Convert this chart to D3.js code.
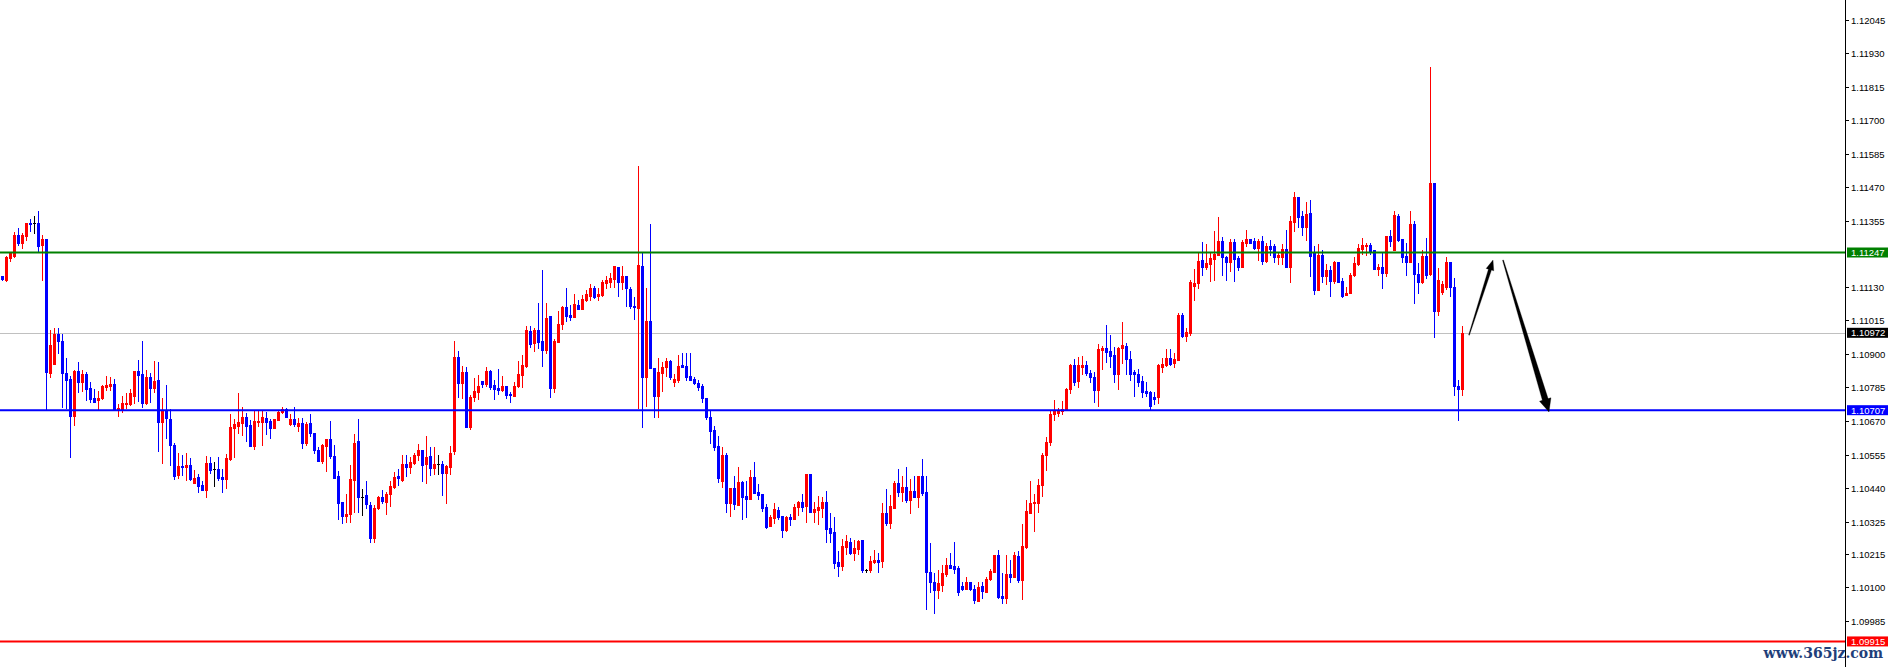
<!DOCTYPE html>
<html><head><meta charset="utf-8">
<script src="https://cdn.jsdelivr.net/npm/d3@7"></script>
<style>html,body{margin:0;padding:0;background:#fff;overflow:hidden}</style>
</head><body>
<svg id="chart" width="1891" height="667"></svg>
<script>
const opens = [
1.11167,1.11153,1.11228,1.11235,1.11307,1.11281,1.11304,1.11347,1.11347,1.11349,
1.11273,1.11294,1.10836,1.10864,1.10968,1.10944,1.10836,1.10814,1.10688,1.10841,
1.10805,1.10831,1.10782,1.10749,1.10742,1.10748,1.10787,1.10790,1.10797,1.10708,
1.10708,1.10727,1.10728,1.10757,1.10841,1.10831,1.10733,1.10822,1.10782,1.10811,
1.10668,1.10708,1.10677,1.10588,1.10485,1.10517,1.10512,1.10519,1.10459,1.10477,
1.10451,1.10434,1.10526,1.10505,1.10506,1.10477,1.10471,1.10540,1.10647,1.10653,
1.10664,1.10683,1.10656,1.10584,1.10667,1.10668,1.10679,1.10670,1.10647,1.10674,
1.10700,1.10710,1.10659,1.10676,1.10654,1.10662,1.10594,1.10662,1.10628,1.10571,
1.10532,1.10584,1.10607,1.10550,1.10480,1.10392,1.10346,1.10350,1.10468,1.10602,
1.10410,1.10417,1.10382,1.10270,1.10371,1.10410,1.10394,1.10419,1.10445,1.10480,
1.10468,1.10523,1.10514,1.10527,1.10552,1.10571,1.10523,1.10550,1.10509,1.10522,
1.10523,1.10493,1.10514,1.10567,1.10890,1.10799,1.10839,1.10649,1.10751,1.10770,
1.10807,1.10796,1.10841,1.10793,1.10782,1.10777,1.10790,1.10763,1.10757,1.10790,
1.10826,1.10860,1.10979,1.10938,1.10982,1.10944,1.10913,1.11030,1.10784,1.10941,
1.11001,1.11061,1.11033,1.11027,1.11066,1.11054,1.11084,1.11098,1.11127,1.11099,
1.11101,1.11142,1.11147,1.11156,1.11197,1.11147,1.11165,1.11122,1.11065,1.11058,
1.11201,1.10822,1.11013,1.10851,1.10757,1.10836,1.10854,1.10877,1.10802,1.10811,
1.10862,1.10858,1.10824,1.10814,1.10799,1.10791,1.10748,1.10685,1.10639,1.10584,
1.10463,1.10554,1.10390,1.10442,1.10382,1.10461,1.10414,1.10403,1.10477,1.10426,
1.10420,1.10377,1.10311,1.10339,1.10365,1.10345,1.10297,1.10342,1.10334,1.10374,
1.10392,1.10380,1.10489,1.10359,1.10365,1.10373,1.10394,1.10302,1.10291,1.10186,
1.10173,1.10240,1.10255,1.10219,1.10232,1.10262,1.10159,1.10159,1.10186,1.10194,
1.10191,1.10356,1.10320,1.10373,1.10459,1.10428,1.10445,1.10400,1.10430,1.10410,
1.10480,1.10428,1.10153,1.10120,1.10091,1.10108,1.10145,1.10176,1.10173,1.10165,
1.10105,1.10093,1.10117,1.10094,1.10055,1.10105,1.10086,1.10128,1.10153,1.10211,
1.10071,1.10065,1.10145,1.10134,1.10208,1.10125,1.10240,1.10356,1.10388,1.10390,
1.10451,1.10552,1.10599,1.10694,1.10699,1.10705,1.10710,1.10780,1.10862,1.10807,
1.10856,1.10862,1.10836,1.10819,1.10777,1.10913,1.10921,1.10910,1.10896,1.10831,
1.10919,1.10927,1.10883,1.10839,1.10831,1.10808,1.10773,1.10770,1.10751,1.10753,
1.10856,1.10862,1.10887,1.10868,1.10879,1.11033,1.10962,1.10970,1.11133,1.11142,
1.11222,1.11196,1.11208,1.11226,1.11239,1.11287,1.11230,1.11216,1.11283,1.11227,
1.11199,1.11279,1.11292,1.11285,1.11264,1.11285,1.11219,1.11270,1.11268,1.11230,
1.11233,1.11259,1.11199,1.11352,1.11438,1.11372,1.11333,1.11381,1.11245,1.11119,
1.11239,1.11165,1.11187,1.11149,1.11215,1.11149,1.11101,1.11109,1.11171,1.11208,
1.11259,1.11268,1.11273,1.11256,1.11190,1.11197,1.11178,1.11304,1.11256,1.11372,
1.11294,1.11235,1.11213,1.11345,1.11174,1.11147,1.11235,1.11174,1.11485,1.11045,
1.11113,1.11128,1.11213,1.11128,1.10790,1.10780];
const highs = [
1.11167,1.11235,1.11246,1.11318,1.11331,1.11314,1.11349,1.11361,1.11372,1.11389,
1.11307,1.11294,1.10982,1.10990,1.10990,1.10968,1.10885,1.10824,1.10845,1.10873,
1.10845,1.10837,1.10805,1.10779,1.10773,1.10793,1.10824,1.10822,1.10813,1.10728,
1.10756,1.10767,1.10779,1.10841,1.10879,1.10944,1.10845,1.10836,1.10876,1.10873,
1.10748,1.10793,1.10710,1.10594,1.10560,1.10554,1.10562,1.10543,1.10502,1.10489,
1.10465,1.10550,1.10546,1.10530,1.10546,1.10505,1.10556,1.10693,1.10676,1.10765,
1.10717,1.10696,1.10674,1.10706,1.10706,1.10706,1.10702,1.10676,1.10676,1.10706,
1.10718,1.10714,1.10694,1.10717,1.10679,1.10679,1.10668,1.10694,1.10628,1.10580,
1.10591,1.10607,1.10670,1.10588,1.10499,1.10392,1.10420,1.10519,1.10626,1.10677,
1.10437,1.10465,1.10392,1.10382,1.10413,1.10434,1.10428,1.10463,1.10497,1.10506,
1.10554,1.10554,1.10545,1.10560,1.10591,1.10571,1.10619,1.10580,1.10580,1.10552,
1.10532,1.10519,1.10584,1.10944,1.10910,1.10858,1.10856,1.10759,1.10816,1.10828,
1.10807,1.10854,1.10845,1.10811,1.10848,1.10824,1.10790,1.10770,1.10802,1.10876,
1.10896,1.10995,1.10995,1.10990,1.11075,1.11187,1.11073,1.11030,1.10950,1.11047,
1.11065,1.11125,1.11066,1.11105,1.11084,1.11101,1.11119,1.11138,1.11132,1.11127,
1.11153,1.11167,1.11178,1.11201,1.11197,1.11201,1.11165,1.11130,1.11093,1.11544,
1.11245,1.11127,1.11345,1.10851,1.10885,1.10873,1.10887,1.10879,1.10831,1.10896,
1.10904,1.10904,1.10904,1.10822,1.10811,1.10797,1.10748,1.10704,1.10653,1.10619,
1.10582,1.10560,1.10440,1.10482,1.10512,1.10465,1.10463,1.10502,1.10530,1.10453,
1.10420,1.10385,1.10348,1.10390,1.10377,1.10345,1.10345,1.10352,1.10385,1.10397,
1.10420,1.10489,1.10489,1.10392,1.10414,1.10410,1.10430,1.10356,1.10342,1.10225,
1.10266,1.10280,1.10270,1.10262,1.10262,1.10262,1.10163,1.10208,1.10228,1.10219,
1.10390,1.10437,1.10417,1.10465,1.10506,1.10482,1.10514,1.10471,1.10482,1.10483,
1.10540,1.10482,1.10252,1.10148,1.10159,1.10176,1.10200,1.10219,1.10257,1.10173,
1.10117,1.10137,1.10120,1.10108,1.10120,1.10117,1.10134,1.10162,1.10211,1.10228,
1.10150,1.10211,1.10194,1.10223,1.10225,1.10317,1.10399,1.10465,1.10420,1.10471,
1.10560,1.10614,1.10708,1.10742,1.10714,1.10739,1.10784,1.10865,1.10883,1.10890,
1.10893,1.10876,1.10845,1.10837,1.10934,1.10927,1.10999,1.10965,1.10924,1.10924,
1.11010,1.10938,1.10910,1.10845,1.10847,1.10824,1.10805,1.10773,1.10769,1.10865,
1.10887,1.10917,1.10917,1.10902,1.11041,1.11041,1.10988,1.11153,1.11190,1.11249,
1.11283,1.11276,1.11249,1.11320,1.11370,1.11300,1.11235,1.11294,1.11294,1.11235,
1.11290,1.11324,1.11292,1.11296,1.11294,1.11304,1.11281,1.11290,1.11277,1.11245,
1.11277,1.11324,1.11372,1.11455,1.11438,1.11389,1.11421,1.11427,1.11270,1.11277,
1.11256,1.11208,1.11201,1.11219,1.11215,1.11161,1.11130,1.11178,1.11233,1.11277,
1.11296,1.11281,1.11279,1.11256,1.11208,1.11249,1.11304,1.11324,1.11389,1.11379,
1.11294,1.11281,1.11389,1.11355,1.11211,1.11256,1.11296,1.11884,1.11485,1.11193,
1.11149,1.11231,1.11213,1.11159,1.10810,1.10994];
const lows = [
1.11153,1.11149,1.11219,1.11233,1.11273,1.11264,1.11290,1.11322,1.11313,1.11252,
1.11153,1.10708,1.10822,1.10864,1.10904,1.10719,1.10714,1.10546,1.10656,1.10770,
1.10774,1.10742,1.10736,1.10736,1.10710,1.10744,1.10777,1.10777,1.10708,1.10688,
1.10702,1.10716,1.10725,1.10733,1.10739,1.10719,1.10727,1.10736,1.10770,1.10568,
1.10527,1.10611,1.10519,1.10471,1.10474,1.10485,1.10468,1.10468,1.10458,1.10428,
1.10432,1.10408,1.10493,1.10448,1.10468,1.10428,1.10442,1.10538,1.10546,1.10630,
1.10622,1.10603,1.10584,1.10575,1.10653,1.10588,1.10626,1.10613,1.10647,1.10674,
1.10696,1.10682,1.10656,1.10654,1.10634,1.10579,1.10588,1.10620,1.10562,1.10532,
1.10527,1.10500,1.10543,1.10474,1.10333,1.10322,1.10325,1.10325,1.10359,1.10359,
1.10349,1.10371,1.10255,1.10255,1.10369,1.10388,1.10352,1.10380,1.10440,1.10451,
1.10466,1.10480,1.10493,1.10523,1.10535,1.10463,1.10459,1.10485,1.10490,1.10490,
1.10417,1.10390,1.10489,1.10557,1.10753,1.10750,1.10649,1.10643,1.10740,1.10745,
1.10787,1.10790,1.10779,1.10745,1.10763,1.10773,1.10750,1.10736,1.10757,1.10787,
1.10787,1.10856,1.10924,1.10911,1.10921,1.10860,1.10902,1.10753,1.10770,1.10941,
1.10985,1.11014,1.11016,1.11027,1.11054,1.11054,1.11081,1.11084,1.11091,1.11084,
1.11098,1.11127,1.11130,1.11130,1.11099,1.11122,1.11065,1.11058,1.11019,1.10714,
1.10649,1.10721,1.10853,1.10685,1.10685,1.10774,1.10824,1.10814,1.10791,1.10805,
1.10856,1.10811,1.10811,1.10796,1.10777,1.10736,1.10676,1.10594,1.10571,1.10461,
1.10445,1.10359,1.10346,1.10369,1.10382,1.10333,1.10342,1.10403,1.10424,1.10403,
1.10362,1.10305,1.10311,1.10322,1.10334,1.10274,1.10293,1.10314,1.10334,1.10348,
1.10362,1.10325,1.10357,1.10323,1.10316,1.10342,1.10255,1.10255,1.10165,1.10139,
1.10159,1.10214,1.10214,1.10194,1.10214,1.10153,1.10153,1.10153,1.10182,1.10153,
1.10171,1.10314,1.10305,1.10371,1.10414,1.10397,1.10394,1.10356,1.10408,1.10377,
1.10417,1.10025,1.10086,1.10011,1.10065,1.10089,1.10140,1.10165,1.10148,1.10074,
1.10091,1.10093,1.10091,1.10048,1.10055,1.10065,1.10086,1.10125,1.10153,1.10065,
1.10048,1.10046,1.10117,1.10134,1.10120,1.10059,1.10236,1.10356,1.10294,1.10359,
1.10413,1.10502,1.10588,1.10674,1.10688,1.10693,1.10710,1.10767,1.10793,1.10785,
1.10831,1.10828,1.10805,1.10736,1.10722,1.10848,1.10873,1.10856,1.10802,1.10780,
1.10868,1.10831,1.10811,1.10756,1.10791,1.10753,1.10756,1.10710,1.10727,1.10733,
1.10839,1.10860,1.10862,1.10856,1.10879,1.10958,1.10945,1.10965,1.11084,1.11127,
1.11171,1.11190,1.11149,1.11153,1.11239,1.11171,1.11153,1.11185,1.11149,1.11187,
1.11197,1.11270,1.11281,1.11259,1.11223,1.11207,1.11216,1.11239,1.11216,1.11208,
1.11208,1.11199,1.11147,1.11322,1.11336,1.11306,1.11290,1.11168,1.11105,1.11119,
1.11145,1.11139,1.11099,1.11143,1.11145,1.11093,1.11101,1.11107,1.11168,1.11205,
1.11243,1.11239,1.11242,1.11190,1.11171,1.11125,1.11165,1.11268,1.11256,1.11287,
1.11213,1.11171,1.11213,1.11073,1.11109,1.11143,1.11161,1.11171,1.10956,1.11033,
1.11104,1.11122,1.11099,1.10760,1.10673,1.10760];
const closes = [
1.11156,1.11232,1.11245,1.11307,1.11281,1.11307,1.11349,1.11345,1.11347,1.11270,
1.11292,1.10839,1.10930,1.10968,1.10944,1.10834,1.10811,1.10688,1.10842,1.10805,
1.10831,1.10780,1.10745,1.10736,1.10748,1.10790,1.10793,1.10797,1.10708,1.10714,
1.10733,1.10733,1.10765,1.10841,1.10828,1.10731,1.10822,1.10782,1.10807,1.10668,
1.10708,1.10679,1.10588,1.10483,1.10516,1.10512,1.10519,1.10471,1.10474,1.10448,
1.10434,1.10526,1.10502,1.10505,1.10474,1.10471,1.10543,1.10649,1.10660,1.10666,
1.10683,1.10654,1.10584,1.10670,1.10670,1.10683,1.10668,1.10647,1.10676,1.10702,
1.10712,1.10682,1.10676,1.10659,1.10662,1.10596,1.10660,1.10628,1.10571,1.10532,
1.10588,1.10607,1.10550,1.10474,1.10390,1.10346,1.10352,1.10471,1.10596,1.10410,
1.10410,1.10385,1.10268,1.10373,1.10410,1.10397,1.10420,1.10448,1.10477,1.10474,
1.10523,1.10514,1.10530,1.10554,1.10571,1.10519,1.10546,1.10509,1.10523,1.10522,
1.10493,1.10516,1.10560,1.10890,1.10799,1.10839,1.10649,1.10753,1.10773,1.10790,
1.10797,1.10841,1.10787,1.10780,1.10777,1.10790,1.10759,1.10759,1.10790,1.10831,
1.10862,1.10982,1.10934,1.10982,1.10941,1.10913,1.11024,1.10784,1.10944,1.11003,
1.11061,1.11030,1.11027,1.11070,1.11054,1.11088,1.11105,1.11127,1.11096,1.11104,
1.11145,1.11153,1.11161,1.11201,1.11147,1.11165,1.11125,1.11065,1.11061,1.11205,
1.10822,1.11013,1.10853,1.10757,1.10837,1.10854,1.10877,1.10822,1.10814,1.10858,
1.10856,1.10822,1.10811,1.10799,1.10785,1.10748,1.10682,1.10634,1.10582,1.10475,
1.10554,1.10390,1.10440,1.10386,1.10461,1.10410,1.10403,1.10477,1.10424,1.10417,
1.10373,1.10306,1.10342,1.10369,1.10342,1.10297,1.10342,1.10334,1.10377,1.10392,
1.10377,1.10489,1.10359,1.10369,1.10377,1.10394,1.10300,1.10288,1.10184,1.10173,
1.10242,1.10259,1.10217,1.10234,1.10259,1.10159,1.10159,1.10191,1.10194,1.10188,
1.10356,1.10322,1.10379,1.10459,1.10428,1.10445,1.10400,1.10431,1.10410,1.10480,
1.10422,1.10153,1.10117,1.10091,1.10115,1.10150,1.10176,1.10168,1.10163,1.10084,
1.10094,1.10117,1.10093,1.10057,1.10100,1.10089,1.10129,1.10157,1.10211,1.10068,
1.10065,1.10145,1.10134,1.10211,1.10125,1.10242,1.10362,1.10390,1.10394,1.10451,
1.10554,1.10597,1.10694,1.10705,1.10705,1.10710,1.10780,1.10862,1.10805,1.10862,
1.10862,1.10834,1.10819,1.10777,1.10917,1.10921,1.10907,1.10893,1.10831,1.10921,
1.10930,1.10881,1.10831,1.10830,1.10805,1.10770,1.10767,1.10722,1.10745,1.10862,
1.10865,1.10887,1.10865,1.10883,1.11033,1.10961,1.10974,1.11147,1.11143,1.11219,
1.11196,1.11211,1.11227,1.11242,1.11287,1.11230,1.11216,1.11283,1.11226,1.11199,
1.11283,1.11294,1.11281,1.11264,1.11285,1.11219,1.11270,1.11259,1.11232,1.11237,
1.11259,1.11199,1.11355,1.11438,1.11370,1.11333,1.11379,1.11235,1.11119,1.11239,
1.11165,1.11187,1.11149,1.11216,1.11147,1.11099,1.11109,1.11171,1.11211,1.11262,
1.11273,1.11273,1.11252,1.11190,1.11199,1.11176,1.11304,1.11285,1.11375,1.11290,
1.11233,1.11213,1.11345,1.11173,1.11147,1.11235,1.11171,1.11485,1.11048,1.11153,
1.11139,1.11213,1.11128,1.10790,1.10780,1.10972];

const tickLabels = ["1.12045","1.11930","1.11815","1.11700","1.11585","1.11470","1.11355",
  "1.11130","1.11015","1.10900","1.10785","1.10670","1.10555","1.10440","1.10325",
  "1.10215","1.10100","1.09985"];
const resistancePrice = 1.11247;
const supportPrice = 1.10707;
const lowLevelPrice = 1.09915;
const bidPrice = 1.10972;
// arrow annotations: [bar index, price]
const arrowUp = [[366.7, 1.10964], [372.7, 1.11221]];
const arrowDown = [[375.2, 1.11221], [386.7, 1.10701]];
const watermark = "www.365jz.com";

const W = 1891, H = 667, axisX = 1845;
const svg = d3.select("#chart");
svg.append("rect").attr("width", W).attr("height", H).attr("fill", "#fff");

const x = d3.scaleLinear().domain([0, 365]).range([2.2, 1462.2]);
const y = d3.scaleLinear().domain([1.09985, 1.12045]).range([621, 19.5]);

const plot = svg.append("g");
// bid line (behind candles)
plot.append("line").attr("x1", 0).attr("x2", axisX).attr("y1", Math.round(y(bidPrice)) + 0.5).attr("y2", Math.round(y(bidPrice)) + 0.5)
  .attr("stroke", "#c0c0c0").attr("stroke-width", 1);

const bars = d3.range(opens.length).map(i => ({i, o: opens[i], h: highs[i], l: lows[i], c: closes[i]}));
const col = d => d.c > d.o ? "#ff0000" : (d.c < d.o ? "#0000ff" : "#000000");
const cg = plot.append("g").attr("shape-rendering", "crispEdges");
cg.selectAll("rect.wick").data(bars).join("rect").attr("class", "wick")
  .attr("x", d => Math.round(x(d.i)))
  .attr("width", 1)
  .attr("y", d => Math.round(y(d.h)))
  .attr("height", d => Math.max(1, Math.round(y(d.l)) - Math.round(y(d.h)) + 1))
  .attr("fill", col);
cg.selectAll("rect.body").data(bars).join("rect").attr("class", "body")
  .attr("x", d => Math.round(x(d.i)) - 1)
  .attr("width", 3)
  .attr("y", d => Math.round(y(Math.max(d.o, d.c))))
  .attr("height", d => Math.max(1, Math.round(y(Math.min(d.o, d.c))) - Math.round(y(Math.max(d.o, d.c))) + 1))
  .attr("fill", col);

// level lines
function level(p, color, w) {
  plot.append("line").attr("x1", 0).attr("x2", axisX).attr("y1", y(p)).attr("y2", y(p))
    .attr("stroke", color).attr("stroke-width", w);
}
level(resistancePrice, "#008000", 2);
level(supportPrice, "#0000ff", 2);
level(lowLevelPrice, "#ff0000", 2);

// arrows
function arrow(pts, w0, w1, headLen, headHalf) {
  const p0 = [x(pts[0][0]), y(pts[0][1])], p1 = [x(pts[1][0]), y(pts[1][1])];
  const dx = p1[0] - p0[0], dy = p1[1] - p0[1], len = Math.hypot(dx, dy);
  const u = [dx / len, dy / len], n = [-u[1], u[0]];
  const b = [p1[0] - u[0] * headLen, p1[1] - u[1] * headLen];
  const pt = (p, k) => [p[0] + n[0] * k, p[1] + n[1] * k];
  const poly = [pt(p0, w0), pt(b, w1), pt(b, headHalf), p1, pt(b, -headHalf), pt(b, -w1), pt(p0, -w0)];
  plot.append("path").attr("d", "M" + poly.map(p => p.join(",")).join("L") + "Z")
    .attr("fill", "#000").attr("stroke", "#000").attr("stroke-width", 0.3);
}
arrow(arrowUp, 0.4, 1.6, 10, 4);
arrow(arrowDown, 0.5, 3, 13, 6);

// axis
const ax = svg.append("g");
ax.append("line").attr("x1", axisX + 0.5).attr("x2", axisX + 0.5).attr("y1", 0).attr("y2", H)
  .attr("stroke", "#000").attr("stroke-width", 1);
const font = "'Liberation Sans', Arial, sans-serif";
tickLabels.forEach(t => {
  const v = +t, yy = Math.round(y(v)) + 0.5;
  ax.append("line").attr("x1", axisX).attr("x2", axisX + 4).attr("y1", yy).attr("y2", yy).attr("stroke", "#000");
  ax.append("text").attr("x", axisX + 6).attr("y", yy).attr("dy", "0.35em")
    .attr("font-family", font).attr("font-size", "9.5px").attr("fill", "#000").text(t);
});
function tag(p, color) {
  const yy = y(p);
  ax.append("rect").attr("x", axisX + 2).attr("y", yy - 5).attr("width", 41).attr("height", 10).attr("fill", color);
  ax.append("text").attr("x", axisX + 6).attr("y", yy).attr("dy", "0.35em")
    .attr("font-family", font).attr("font-size", "9.5px").attr("fill", "#fff").text(p.toFixed(5));
}
tag(resistancePrice, "#008000");
tag(bidPrice, "#000000");
tag(supportPrice, "#0000ff");
tag(lowLevelPrice, "#ff0000");

svg.append("text").attr("x", 1883).attr("y", 658).attr("text-anchor", "end")
  .attr("font-family", "'DejaVu Serif', serif").attr("font-weight", "bold").attr("font-size", "14px")
  .attr("fill", "#1f3f7a").text(watermark);
</script>
</body></html>
